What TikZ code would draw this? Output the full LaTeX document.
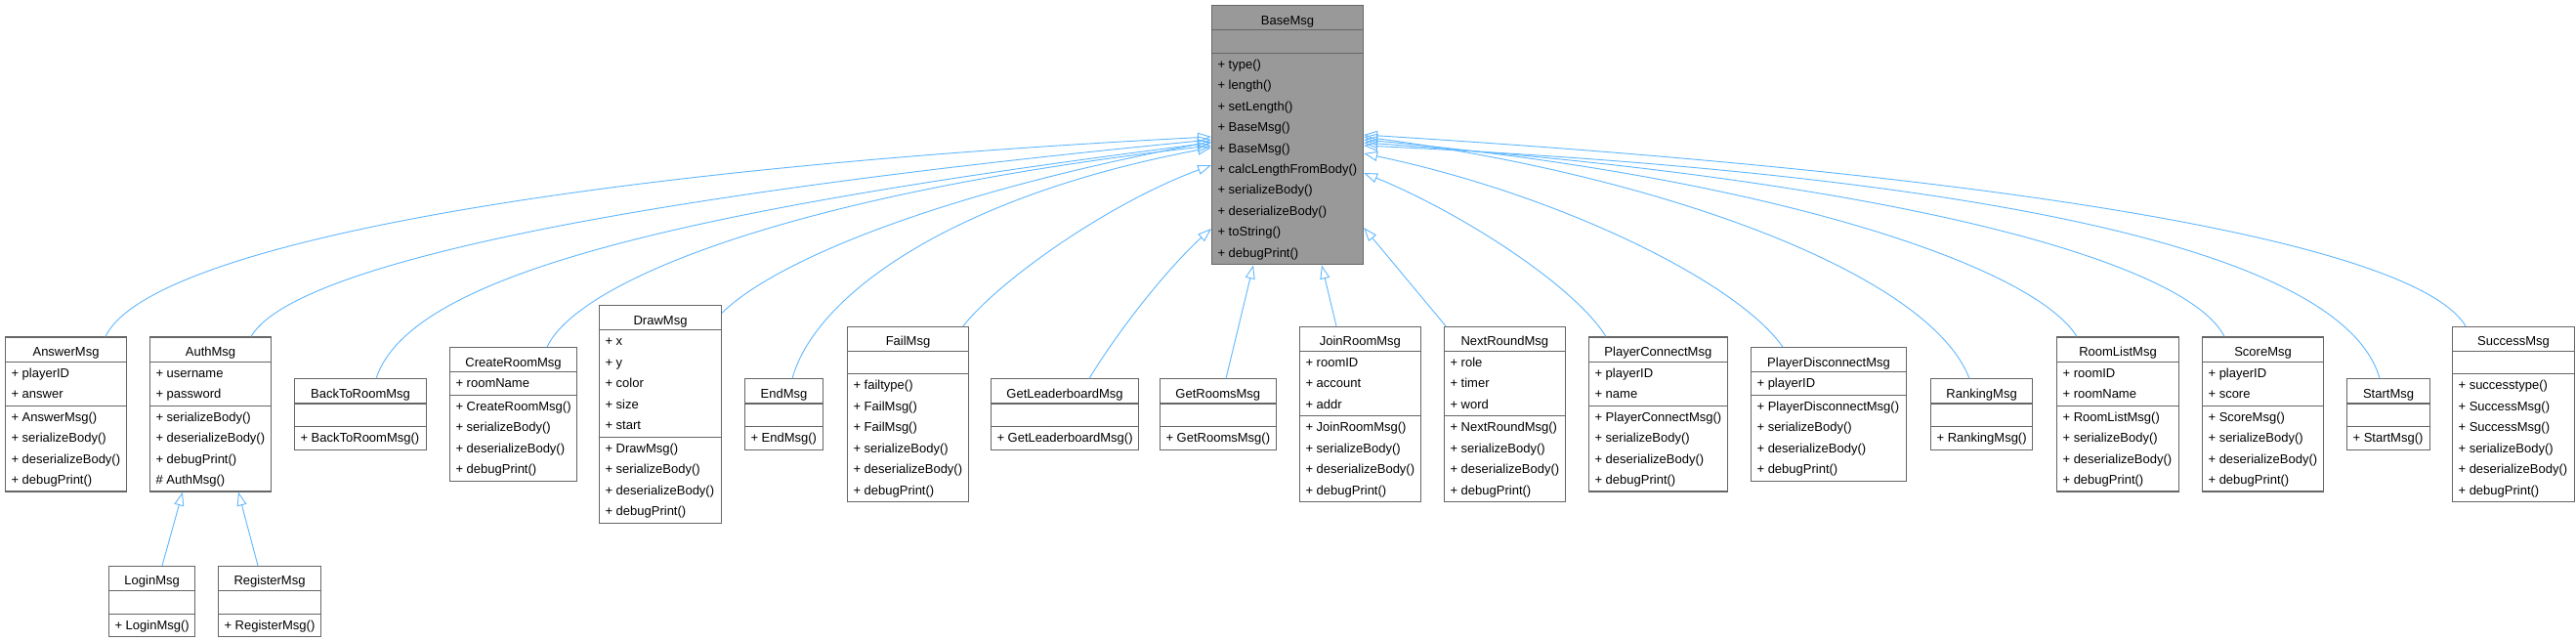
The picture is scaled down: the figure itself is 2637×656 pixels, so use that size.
\documentclass[tikz,border=0pt]{standalone}
\usepackage{fontspec}
\setmainfont{Liberation Sans}
\usetikzlibrary{shapes.multipart,arrows.meta,calc}
\definecolor{clsline}{HTML}{666666}
\definecolor{basefill}{HTML}{999999}
\definecolor{edgeblue}{HTML}{63B8FF}
\newcommand\rows[1]{\begin{tabular}{@{}l@{}}#1\end{tabular}}
\newcommand\ttl[1]{\rule[-3.4pt]{0pt}{17.25pt}#1}
\begin{document}
\begin{tikzpicture}[x=0.75pt,y=-0.75pt,
    cls/.style={rectangle split,rectangle split parts=3,
      rectangle split ignore empty parts=false,
      rectangle split part align={center,left,left},
      draw=clsline,line width=0.8pt,inner xsep=4.5pt,inner ysep=0.375pt,
      font=\fontsize{9.75pt}{16.1pt}\selectfont,anchor=west},
    inh/.style={draw=edgeblue,line width=0.7pt,
      -{Triangle[open,length=10.5pt,width=7.5pt]}}]
     \useasboundingbox (0,0) rectangle (2637,656);
     \node[cls,fill=basefill,anchor=north west,minimum width=116.25pt] (BaseMsg) at (1240,5)
       {\ttl{BaseMsg}\nodepart{two}\rows{\mbox{}}\nodepart{three}\rows{+ type()\\+ length()\\+ setLength()\\+ BaseMsg()\\+ BaseMsg()\\+ calcLengthFromBody()\\+ serializeBody()\\+ deserializeBody()\\+ toString()\\+ debugPrint()}};
     \node[cls,minimum width=93pt] (AnswerMsg) at (5,424)
       {\ttl{AnswerMsg}\nodepart{two}\rows{+ playerID\\+ answer}\nodepart{three}\rows{+ AnswerMsg()\\+ serializeBody()\\+ deserializeBody()\\+ debugPrint()}};
     \node[cls,minimum width=93pt] (AuthMsg) at (153,424)
       {\ttl{AuthMsg}\nodepart{two}\rows{+ username\\+ password}\nodepart{three}\rows{+ serializeBody()\\+ deserializeBody()\\+ debugPrint()\\\# AuthMsg()}};
     \node[cls,minimum width=101.25pt] (BackToRoomMsg) at (301,424)
       {\ttl{BackToRoomMsg}\nodepart{two}\rows{\mbox{}}\nodepart{three}\rows{+ BackToRoomMsg()}};
     \node[cls,minimum width=96.75pt] (CreateRoomMsg) at (460,424)
       {\ttl{CreateRoomMsg}\nodepart{two}\rows{+ roomName}\nodepart{three}\rows{+ CreateRoomMsg()\\+ serializeBody()\\+ deserializeBody()\\+ debugPrint()}};
     \node[cls,minimum width=93.75pt] (DrawMsg) at (613,424)
       {\ttl{DrawMsg}\nodepart{two}\rows{+ x\\+ y\\+ color\\+ size\\+ start}\nodepart{three}\rows{+ DrawMsg()\\+ serializeBody()\\+ deserializeBody()\\+ debugPrint()}};
     \node[cls,minimum width=60pt] (EndMsg) at (762,424)
       {\ttl{EndMsg}\nodepart{two}\rows{\mbox{}}\nodepart{three}\rows{+ EndMsg()}};
     \node[cls,minimum width=93pt] (FailMsg) at (867,424)
       {\ttl{FailMsg}\nodepart{two}\rows{\mbox{}}\nodepart{three}\rows{+ failtype()\\+ FailMsg()\\+ FailMsg()\\+ serializeBody()\\+ deserializeBody()\\+ debugPrint()}};
     \node[cls,minimum width=111pt] (GetLeaderboardMsg) at (1014,424)
       {\ttl{GetLeaderboardMsg}\nodepart{two}\rows{\mbox{}}\nodepart{three}\rows{+ GetLeaderboardMsg()}};
     \node[cls,minimum width=88.5pt] (GetRoomsMsg) at (1187,424)
       {\ttl{GetRoomsMsg}\nodepart{two}\rows{\mbox{}}\nodepart{three}\rows{+ GetRoomsMsg()}};
     \node[cls,minimum width=92.25pt] (JoinRoomMsg) at (1330,424)
       {\ttl{JoinRoomMsg}\nodepart{two}\rows{+ roomID\\+ account\\+ addr}\nodepart{three}\rows{+ JoinRoomMsg()\\+ serializeBody()\\+ deserializeBody()\\+ debugPrint()}};
     \node[cls,minimum width=92.25pt] (NextRoundMsg) at (1478,424)
       {\ttl{NextRoundMsg}\nodepart{two}\rows{+ role\\+ timer\\+ word}\nodepart{three}\rows{+ NextRoundMsg()\\+ serializeBody()\\+ deserializeBody()\\+ debugPrint()}};
     \node[cls,minimum width=105.75pt] (PlayerConnectMsg) at (1626,424)
       {\ttl{PlayerConnectMsg}\nodepart{two}\rows{+ playerID\\+ name}\nodepart{three}\rows{+ PlayerConnectMsg()\\+ serializeBody()\\+ deserializeBody()\\+ debugPrint()}};
     \node[cls,minimum width=119.25pt] (PlayerDisconnectMsg) at (1792,424)
       {\ttl{PlayerDisconnectMsg}\nodepart{two}\rows{+ playerID}\nodepart{three}\rows{+ PlayerDisconnectMsg()\\+ serializeBody()\\+ deserializeBody()\\+ debugPrint()}};
     \node[cls,minimum width=78pt] (RankingMsg) at (1976,424)
       {\ttl{RankingMsg}\nodepart{two}\rows{\mbox{}}\nodepart{three}\rows{+ RankingMsg()}};
     \node[cls,minimum width=93.75pt] (RoomListMsg) at (2105,424)
       {\ttl{RoomListMsg}\nodepart{two}\rows{+ roomID\\+ roomName}\nodepart{three}\rows{+ RoomListMsg()\\+ serializeBody()\\+ deserializeBody()\\+ debugPrint()}};
     \node[cls,minimum width=93pt] (ScoreMsg) at (2254,424)
       {\ttl{ScoreMsg}\nodepart{two}\rows{+ playerID\\+ score}\nodepart{three}\rows{+ ScoreMsg()\\+ serializeBody()\\+ deserializeBody()\\+ debugPrint()}};
     \node[cls,minimum width=63.75pt] (StartMsg) at (2402,424)
       {\ttl{StartMsg}\nodepart{two}\rows{\mbox{}}\nodepart{three}\rows{+ StartMsg()}};
     \node[cls,minimum width=93.75pt] (SuccessMsg) at (2510,424)
       {\ttl{SuccessMsg}\nodepart{two}\rows{\mbox{}}\nodepart{three}\rows{+ successtype()\\+ SuccessMsg()\\+ SuccessMsg()\\+ serializeBody()\\+ deserializeBody()\\+ debugPrint()}};
     \node[cls,minimum width=66pt] (LoginMsg) at (111,615.5)
       {\ttl{LoginMsg}\nodepart{two}\rows{\mbox{}}\nodepart{three}\rows{+ LoginMsg()}};
     \node[cls,minimum width=78.75pt] (RegisterMsg) at (223,615.5)
       {\ttl{RegisterMsg}\nodepart{two}\rows{\mbox{}}\nodepart{three}\rows{+ RegisterMsg()}};
     \draw[inh] ($(AnswerMsg.north west)+(103,0)$) .. controls (150,255) and (560,175) .. ($(BaseMsg.north west)+(0,135)$);
     \draw[inh] ($(AuthMsg.north west)+(104,0)$) .. controls (300,270) and (650,200) .. ($(BaseMsg.north west)+(0,138)$);
     \draw[inh] ($(BackToRoomMsg.north west)+(84,0)$) .. controls (420,280) and (700,215) .. ($(BaseMsg.north west)+(0,141)$);
     \draw[inh] ($(CreateRoomMsg.north west)+(100,0)$) .. controls (590,290) and (800,200) .. ($(BaseMsg.north west)+(0,144)$);
     \draw[inh] ($(DrawMsg.north east)+(0,8)$) .. controls (790,270) and (950,200) .. ($(BaseMsg.north west)+(0,140)$);
     \draw[inh] ($(EndMsg.north west)+(49,0)$) .. controls (835,300) and (980,200) .. ($(BaseMsg.north west)+(0,146)$);
     \draw[inh] ($(FailMsg.north west)+(119,0)$) .. controls (1020,290) and (1130,210) .. ($(BaseMsg.north west)+(0,164)$);
     \draw[inh] ($(GetLeaderboardMsg.north west)+(101,0)$) .. controls (1150,330) and (1200,270) .. ($(BaseMsg.north west)+(0,229)$);
     \draw[inh] ($(GetRoomsMsg.north west)+(68,0)$) -- ($(BaseMsg.south west)+(43,0)$);
     \draw[inh] ($(JoinRoomMsg.north west)+(38,0)$) -- ($(BaseMsg.south west)+(113,0)$);
     \draw[inh] ($(NextRoundMsg.north west)+(2,0)$) -- ($(BaseMsg.north east)+(0,228)$);
     \draw[inh] ($(PlayerConnectMsg.north west)+(18,0)$) .. controls (1610,290) and (1490,215) .. ($(BaseMsg.north east)+(0,172)$);
     \draw[inh] ($(PlayerDisconnectMsg.north west)+(33,0)$) .. controls (1780,290) and (1600,200) .. ($(BaseMsg.north east)+(0,152)$);
     \draw[inh] ($(RankingMsg.north west)+(40,0)$) .. controls (1975,280) and (1700,180) .. ($(BaseMsg.north east)+(0,135)$);
     \draw[inh] ($(RoomListMsg.north west)+(21,0)$) .. controls (2080,270) and (1800,180) .. ($(BaseMsg.north east)+(0,138)$);
     \draw[inh] ($(ScoreMsg.north west)+(23,0)$) .. controls (2240,270) and (1950,185) .. ($(BaseMsg.north east)+(0,141)$);
     \draw[inh] ($(StartMsg.north west)+(34,0)$) .. controls (2400,260) and (2050,180) .. ($(BaseMsg.north east)+(0,144)$);
     \draw[inh] ($(SuccessMsg.north west)+(14,0)$) .. controls (2480,260) and (2150,185) .. ($(BaseMsg.north east)+(0,133)$);
     \draw[inh] ($(LoginMsg.north west)+(55,0)$) -- ($(AuthMsg.south west)+(34,0)$);
     \draw[inh] ($(RegisterMsg.north west)+(41,0)$) -- ($(AuthMsg.south west)+(91,0)$);
    \end{tikzpicture}
\end{document}
